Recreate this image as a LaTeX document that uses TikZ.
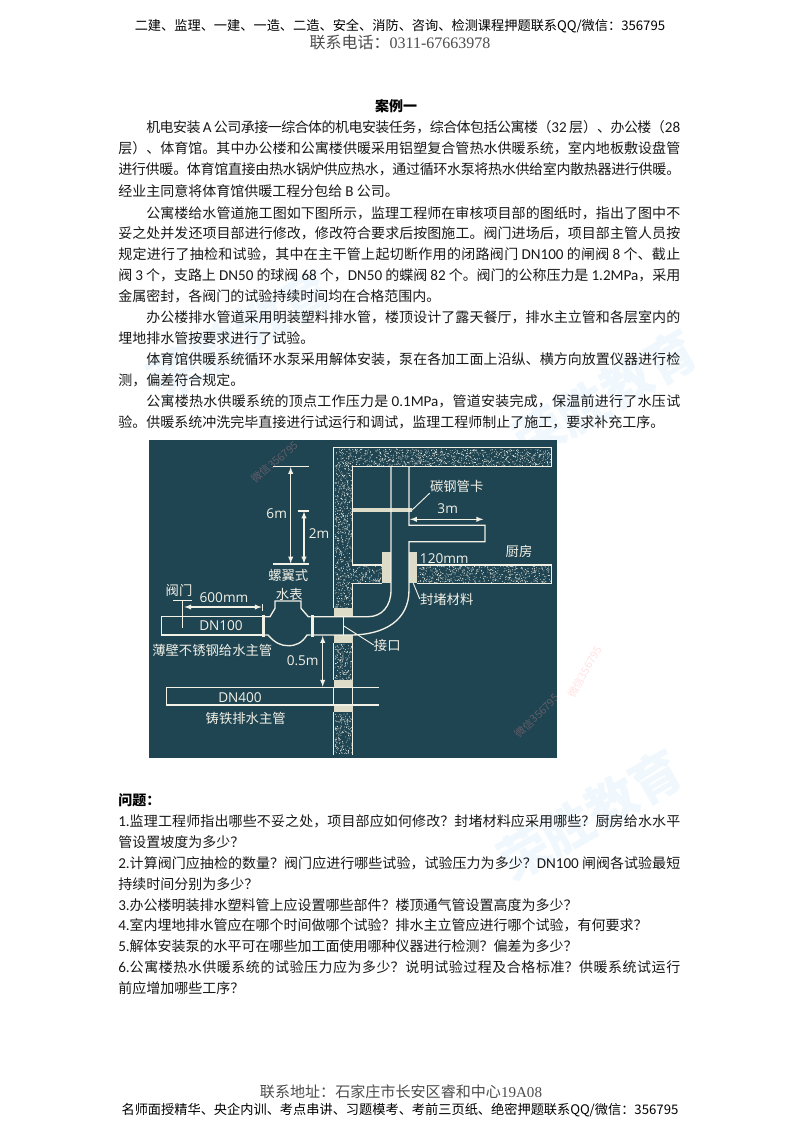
\documentclass[tikz,border=0pt]{standalone}
\usepackage{fontspec}
\usetikzlibrary{positioning}
\setmainfont{Noto Sans CJK SC}
\newfontfamily\latfont[Scale=1.08]{Carlito}
\newfontfamily\serfont{Liberation Serif}
\newfontfamily\dimfont{Open Sans}
\definecolor{boardcol}{HTML}{1F4452}
\definecolor{linecol}{HTML}{F2F1E6}
\definecolor{sleevecol}{HTML}{DDDCC8}
\definecolor{inkcol}{HTML}{181818}
\definecolor{markcol}{HTML}{F0F8FD}
\XeTeXlinebreaklocale "zh"
\XeTeXlinebreakskip=0pt plus 3pt minus 0.5pt
\newcommand{\lat}[1]{{\latfont #1}}
\newcommand{\fitline}[1]{\parbox{421.5pt}{\tolerance=9999\parfillskip=0pt\noindent #1\par}}
\newcommand{\speckle}[5]{%
    \foreach \i in {1,...,#5} {
        \pgfmathsetmacro\sx{#1+rnd*(#3-#1)}
        \pgfmathsetmacro\sy{#2+rnd*(#4-#2)}
        \fill[linecol] (\sx,\sy) circle (0.45);
    }}
\tikzset{
    bodyline/.style={anchor=west, inner sep=0pt, text=inkcol, font=\fontsize{10.5}{12}\selectfont},
    headline/.style={inner sep=0pt, text=black, font=\fontsize{9.9}{12}\selectfont},
    contactline/.style={inner sep=0pt, text=black!70, font=\fontsize{12}{14}\selectfont},
    pipeline/.style={draw=linecol, line width=1pt},
    sleeve/.style={fill=sleevecol},
    dimline/.style={draw=linecol, line width=0.8pt, <->, >=latex},
    leader/.style={draw=linecol, line width=0.7pt},
    cnlabel/.style={inner sep=0pt, text=linecol, font=\fontsize{10}{12}\selectfont},
    numlabel/.style={inner sep=0pt, text=linecol, font=\dimfont\fontsize{10.2}{12}\selectfont},
    watermark/.style={inner sep=0pt, rotate=30, text=markcol, font=\bfseries\fontsize{38}{40}\selectfont},
    redmark/.style={inner sep=0pt, text=red!40!white, opacity=0.3, font=\fontsize{8}{10}\selectfont}
}
\begin{document}
\begin{tikzpicture}[x=0.75pt,y=-0.75pt]
    \useasboundingbox (0,0) rectangle (800,1132);

    % Pale marks behind the page
    \foreach \wx/\wy in {590/815, 605/395, 240/335} {
        \node[watermark] (mark\wx) at (\wx,\wy) {荣胜教育};
    }

    % Header
    \node[headline] (head1) at (400,26) {二建、监理、一建、一造、二造、安全、消防、咨询、检测课程押题联系QQ/微信：356795};
    \node[contactline] (head2) at (400,42) {联系电话：{\serfont 0311-67663978}};

    % Case text
    \node[inner sep=0pt, text=black, font=\bfseries\fontsize{10.5}{12}\selectfont] (title) at (396,106) {案例一};
    \node[bodyline] (l1) at (118,127) {\fitline{\hspace*{21pt}机电安装 \lat{A} 公司承接一综合体的机电安装任务，综合体包括公寓楼（\lat{32} 层）、办公楼（\lat{28}}};
    \node[bodyline] (l2) at (118,148) {\fitline{层）、体育馆。其中办公楼和公寓楼供暖采用铝塑复合管热水供暖系统，室内地板敷设盘管}};
    \node[bodyline] (l3) at (118,169) {\fitline{进行供暖。体育馆直接由热水锅炉供应热水，通过循环水泵将热水供给室内散热器进行供暖。}};
    \node[bodyline] (l4) at (118,191) {经业主同意将体育馆供暖工程分包给 \lat{B} 公司。};
    \node[bodyline] (l5) at (118,213) {\fitline{\hspace*{21pt}公寓楼给水管道施工图如下图所示，监理工程师在审核项目部的图纸时，指出了图中不}};
    \node[bodyline] (l6) at (118,233) {\fitline{妥之处并发还项目部进行修改，修改符合要求后按图施工。阀门进场后，项目部主管人员按}};
    \node[bodyline] (l7) at (118,254) {\fitline{规定进行了抽检和试验，其中在主干管上起切断作用的闭路阀门 \lat{DN100} 的闸阀 \lat{8} 个、截止}};
    \node[bodyline] (l8) at (118,275) {\fitline{阀 \lat{3} 个，支路上 \lat{DN50} 的球阀 \lat{68} 个，\lat{DN50} 的蝶阀 \lat{82} 个。阀门的公称压力是 \lat{1.2MPa}，采用}};
    \node[bodyline] (l9) at (118,296) {金属密封，各阀门的试验持续时间均在合格范围内。};
    \node[bodyline] (l10) at (118,317) {\fitline{\hspace*{21pt}办公楼排水管道采用明装塑料排水管，楼顶设计了露天餐厅，排水主立管和各层室内的}};
    \node[bodyline] (l11) at (118,338) {埋地排水管按要求进行了试验。};
    \node[bodyline] (l12) at (118,359) {\fitline{\hspace*{21pt}体育馆供暖系统循环水泵采用解体安装，泵在各加工面上沿纵、横方向放置仪器进行检}};
    \node[bodyline] (l13) at (118,380) {测，偏差符合规定。};
    \node[bodyline] (l14) at (118,401) {\fitline{\hspace*{21pt}公寓楼热水供暖系统的顶点工作压力是 \lat{0.1MPa}，管道安装完成，保温前进行了水压试}};
    \node[bodyline] (l15) at (118,422) {验。供暖系统冲洗完毕直接进行试运行和调试，监理工程师制止了施工，要求补充工序。};

    % Board
    \fill[boardcol] (149,440) rectangle (557,758);

    % Walls and floor
    \pgfmathsetseed{4213}
    \speckle{335}{449}{551}{466}{900}
    \speckle{335}{466}{352}{608}{560}
    \speckle{418}{566}{551}{583}{520}
    \speckle{353}{566}{382}{583}{110}
    \speckle{335}{644}{352}{680}{150}
    \speckle{335}{713}{352}{754}{165}
    \draw[pipeline] (333.5,608.3) -- (333.5,447.5) -- (551.5,447.5) -- (551.5,466.5) -- (352.5,466.5) -- (352.5,565) -- (382.3,565);
    \draw[pipeline] (382.3,583.3) -- (352.5,583.3) -- (352.5,608.3);
    \draw[pipeline] (417.3,565) -- (551.5,565) -- (551.5,583.3) -- (417.3,583.3);
    \draw[pipeline] (333.5,643.3) -- (333.5,680);
    \draw[pipeline] (352.5,643.3) -- (352.5,680);
    \draw[pipeline] (333.5,712.3) -- (333.5,754.5);
    \draw[pipeline] (352.5,712.3) -- (352.5,754.5);

    % Sleeves
    \fill[sleeve] (382.3,552.3) rectangle (391,583.3);
    \fill[sleeve] (409.3,552.3) rectangle (417.3,583.3);
    \fill[sleeve] (333.5,608.3) rectangle (352.5,616.7);
    \fill[sleeve] (333.5,635) rectangle (352.5,643.3);
    \fill[sleeve] (333.5,680) rectangle (352.5,687.3);
    \fill[sleeve] (333.5,705) rectangle (352.5,712.3);
    \fill[sleeve] (352.5,508.3) rectangle (411.7,512.3);

    % Water pipes
    \draw[pipeline] (391,466.5) -- (391,590) .. controls (391,606) and (382,616.7) .. (368,616.7) -- (313.3,616.7);
    \draw[pipeline] (409,466.5) -- (409,525.3) -- (485,525.3) -- (485,541.7) -- (409,541.7) -- (409,590) .. controls (409,620) and (385,635) .. (350,635) -- (313.3,635);
    \draw[pipeline] (343.3,616.7) -- (343.3,635);
    \draw[pipeline] (261.5,616.7) -- (161.7,616.7) -- (161.7,635) -- (261.5,635);

    % Water meter
    \draw[pipeline] (265,616.7) -- (270,616.7) -- (275,608.3) -- (275,601) -- (301,601) -- (301,608.3) -- (308.3,616.7) -- (310.5,616.7);
    \draw[pipeline] (265,635) -- (268,635) .. controls (275,643) and (281,645.7) .. (288.3,645.7) .. controls (296,645.7) and (302,643) .. (307,635) -- (310.5,635);
    \fill[linecol] (261.5,615) rectangle (265,637.3);
    \fill[linecol] (310.5,615) rectangle (314,637.3);

    % Valve
    \draw[pipeline] (173.3,600.7) -- (192.3,600.7);
    \draw[pipeline] (182.3,600.7) -- (182.3,627.7);

    % Drain pipe
    \draw[pipeline] (379,687.3) -- (166.7,687.3) -- (166.7,705) -- (379,705);
    \draw[pipeline] (333.5,687.3) -- (333.5,705);
    \draw[pipeline] (352.5,687.3) -- (352.5,705);

    % Dimensions
    \draw[pipeline] (273.3,466.7) -- (309.3,466.7);
    \draw[pipeline] (273.3,564) -- (309.3,564);
    \draw[pipeline] (297.7,511) -- (309.3,511);
    \draw[dimline] (290.7,467) -- (290.7,563.5);
    \draw[dimline] (304,511.5) -- (304,563.5);
    \draw[dimline] (410,519.3) -- (483.3,519.3);
    \draw[dimline] (184.3,607) -- (261.7,607);
    \draw[leader] (262.3,604.3) -- (262.3,611);
    \draw[dimline] (322.7,636) -- (322.7,686.7);

    % Labels
    \node[numlabel] (six) at (276.7,513.7) {6m};
    \node[numlabel] (two) at (319,534) {2m};
    \node[numlabel] (three) at (447.7,509) {3m};
    \node[numlabel] (hundred) at (444.3,558.3) {120mm};
    \node[numlabel] (sixhundred) at (224,597.7) {600mm};
    \node[numlabel] (half) at (302.7,660.7) {0.5m};
    \node[numlabel] (dnwater) at (221,626) {DN100};
    \node[numlabel] (dndrain) at (240,697.3) {DN400};
    \node[cnlabel] (kitchen) at (519,551.7) {厨房};
    \node[cnlabel] (clamp) at (456.7,486.7) {碳钢管卡};
    \node[cnlabel] (sealing) at (446.7,599) {封堵材料};
    \node[cnlabel] (joint) at (387.3,645) {接口};
    \node[cnlabel] (meter1) at (288.3,575) {螺翼式};
    \node[cnlabel] (meter2) at (289.3,594) {水表};
    \node[cnlabel] (valve) at (179,590) {阀门};
    \node[cnlabel] (watermain) at (212.3,650) {薄壁不锈钢给水主管};
    \node[cnlabel] (drainmain) at (245.7,718.7) {铸铁排水主管};

    % Leaders
    \coordinate (clampend) at (411.7,510.3);
    \coordinate (sleeveend) at (413.3,583.3);
    \coordinate (jointend) at (343.3,625.7);
    \draw[leader] (clampend) -- (clamp.south west);
    \draw[leader] (sleeveend) -- (sealing.west);
    \draw[leader] (jointend) -- (joint.west);

    % Questions
    \node[inner sep=0pt, anchor=west, text=black, font=\bfseries\fontsize{10.5}{12}\selectfont] (ask) at (118,800) {问题：};
    \node[bodyline] (q1) at (118,821) {\fitline{\lat{1.}监理工程师指出哪些不妥之处，项目部应如何修改？封堵材料应采用哪些？厨房给水水平}};
    \node[bodyline] (q2) at (118,842) {管设置坡度为多少？};
    \node[bodyline] (q3) at (118,863) {\fitline{\lat{2.}计算阀门应抽检的数量？阀门应进行哪些试验，试验压力为多少？\lat{DN100} 闸阀各试验最短}};
    \node[bodyline] (q4) at (118,884) {持续时间分别为多少？};
    \node[bodyline] (q5) at (118,905) {\lat{3.}办公楼明装排水塑料管上应设置哪些部件？楼顶通气管设置高度为多少？};
    \node[bodyline] (q6) at (118,925) {\lat{4.}室内埋地排水管应在哪个时间做哪个试验？排水主立管应进行哪个试验，有何要求？};
    \node[bodyline] (q7) at (118,946) {\lat{5.}解体安装泵的水平可在哪些加工面使用哪种仪器进行检测？偏差为多少？};
    \node[bodyline] (q8) at (118,967) {\fitline{\lat{6.}公寓楼热水供暖系统的试验压力应为多少？说明试验过程及合格标准？供暖系统试运行}};
    \node[bodyline] (q9) at (118,988) {前应增加哪些工序？};

    % Footer
    \node[contactline, font=\fontsize{11.3}{14}\selectfont] (foot1) at (401,1092) {联系地址：石家庄市长安区睿和中心{\serfont 19A08}};
    \node[headline] (foot2) at (400,1110) {名师面授精华、央企内训、考点串讲、习题模考、考前三页纸、绝密押题联系QQ/微信：356795};

    % Red marks over the page
    \node[redmark, rotate=40] (red1) at (275,462) {微信356795};
    \node[redmark, rotate=60] (red2) at (585,672) {微信356795};
    \node[redmark, rotate=45] (red3) at (537,716) {微信356795};
\end{tikzpicture}
\end{document}
